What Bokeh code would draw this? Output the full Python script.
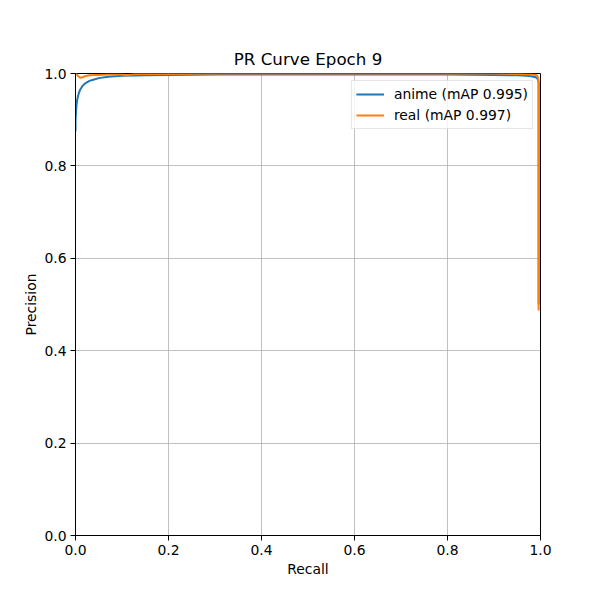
from bokeh.plotting import figure
from bokeh.models import FixedTicker, PrintfTickFormatter, Range1d, Legend, LegendItem
from bokeh.embed import file_html
from bokeh.resources import INLINE

title_text = "PR Curve Epoch 9"
x_label = "Recall"
y_label = "Precision"
tick_values = [0.0, 0.2, 0.4, 0.6, 0.8, 1.0]

anime_label = "anime (mAP 0.995)"
anime_recall = [0.0, 0.0, 0.001, 0.002, 0.004, 0.007, 0.01, 0.015, 0.02, 0.03, 0.04, 0.05,
                0.07, 0.1, 0.15, 0.2, 0.3, 0.4, 0.5, 0.6, 0.7, 0.8, 0.9, 0.95, 0.97, 0.98,
                0.99, 0.994, 0.996, 0.996]
anime_precision = [0.875, 0.90, 0.915, 0.93, 0.945, 0.957, 0.965, 0.973, 0.978, 0.984, 0.987, 0.990,
                   0.993, 0.995, 0.996, 0.997, 0.998, 0.998, 0.998, 0.998, 0.998, 0.998, 0.997, 0.996, 0.995, 0.994,
                   0.992, 0.988, 0.98, 0.50]

real_label = "real (mAP 0.997)"
real_recall = [0.0, 0.003, 0.006, 0.01, 0.015, 0.02, 0.03, 0.04, 0.05, 0.07, 0.1, 0.11, 0.12, 0.13,
               0.2, 0.3, 0.4, 0.5, 0.6, 0.7, 0.8, 0.9, 0.95, 0.98, 0.99, 0.993, 0.995, 0.996, 0.996]
real_precision = [1.0, 0.998, 0.994, 0.991, 0.992, 0.994, 0.996, 0.997, 0.997, 0.998, 0.998, 0.996, 0.998, 0.999,
                  0.999, 1.0, 1.0, 1.0, 1.0, 1.0, 1.0, 1.0, 0.999, 0.998, 0.997, 0.995, 0.99, 0.98, 0.487]

FONT = "DejaVu Sans"

p = figure(width=600, height=600, output_backend="svg", toolbar_location=None,
           x_range=Range1d(0, 1), y_range=Range1d(0, 1),
           min_border_left=75, min_border_right=60, min_border_top=73, min_border_bottom=65)

p.title.text = title_text
p.title.align = "center"
p.title.text_font = FONT
p.title.text_font_size = "16.7px"
p.title.text_font_style = "normal"
p.title.text_color = "black"

for ax in (p.xaxis[0], p.yaxis[0]):
    ax.ticker = FixedTicker(ticks=tick_values)
    ax.formatter = PrintfTickFormatter(format="%.1f")
    ax.minor_tick_line_color = None
    ax.major_tick_out = 5
    ax.major_tick_in = 0
    ax.major_label_text_font = FONT
    ax.major_label_text_font_size = "13.9px"
    ax.major_label_text_color = "black"
    ax.axis_label_text_font = FONT
    ax.axis_label_text_font_size = "13.9px"
    ax.axis_label_text_font_style = "normal"
    ax.axis_label_text_color = "black"
    ax.axis_line_color = "black"
    ax.major_tick_line_color = "black"
    ax.major_label_standoff = 4

p.xaxis.axis_label = x_label
p.yaxis.axis_label = y_label
p.xaxis.axis_label_standoff = 3
p.yaxis.axis_label_standoff = 2
p.yaxis.major_label_orientation = "horizontal"

p.outline_line_color = "black"
p.outline_line_width = 1
p.outline_line_alpha = 1.0

p.xgrid.ticker = FixedTicker(ticks=tick_values)
p.ygrid.ticker = FixedTicker(ticks=tick_values)
p.grid.grid_line_color = "#b0b0b0"
p.grid.grid_line_width = 0.8

r1 = p.line(anime_recall, anime_precision, line_color="#1f77b4", line_width=2)
r2 = p.line(real_recall, real_precision, line_color="#ff7f0e", line_width=2)

legend = Legend(items=[LegendItem(label=anime_label, renderers=[r1]),
                       LegendItem(label=real_label, renderers=[r2])],
                location="top_right")
legend.label_text_font = FONT
legend.label_text_font_size = "13.9px"
legend.label_text_color = "black"
legend.glyph_width = 28
legend.glyph_height = 18
legend.label_height = 18
legend.spacing = 3
legend.padding = 4
legend.margin = 7
legend.label_standoff = 10
legend.border_line_color = "#cccccc"
legend.border_line_width = 1
legend.background_fill_alpha = 0.8
p.add_layout(legend)

open("out.html", "w").write(file_html(p, INLINE))
